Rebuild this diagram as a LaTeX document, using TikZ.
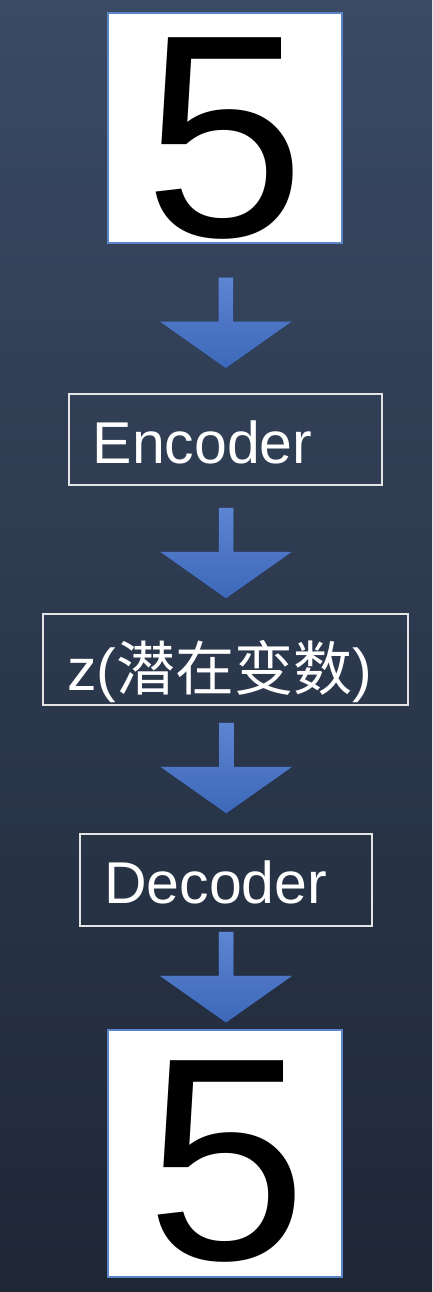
\documentclass[tikz,border=0pt]{standalone}
\usepackage{fontspec}
\setmainfont{Liberation Sans}
\newfontfamily\cjk{Noto Sans CJK SC}
\usetikzlibrary{calc}
\definecolor{bgtop}{HTML}{3A4A64}
\definecolor{bgbot}{HTML}{1E2736}
\definecolor{arrtop}{HTML}{5C86D2}
\definecolor{arrbot}{HTML}{3D67B8}
\definecolor{imgborder}{HTML}{5B84C9}
\definecolor{txtborder}{HTML}{E4E4E4}
\tikzset{
  imgbox/.style={draw=imgborder, line width=2.6pt, fill=white, inner sep=0pt},
  txtbox/.style={draw=txtborder, line width=1.4pt, inner sep=0pt},
  digit/.style={font=\fontsize{289}{300}\selectfont, text=black, inner sep=0pt, anchor=base},
  boxlabel/.style={font=\fontsize{59}{62}\selectfont, text=white, inner sep=0pt, anchor=base west},
  blockarrow/.pic={
    \fill[top color=arrtop, bottom color=arrbot]
      (-7.5,45.5) -- (7.5,45.5) -- (7.5,1.5) -- (66.5,1.5) -- (0,-45.5)
      -- (-66.5,1.5) -- (-7.5,1.5) -- cycle;
  }
}
\begin{document}
\begin{tikzpicture}[x=1pt,y=1pt]
\useasboundingbox (0,0) rectangle (432,-1292);
\shade[top color=bgtop, bottom color=bgbot] (0,0) rectangle (432,-1292);

% boxes
\node[imgbox, minimum width=234pt, minimum height=230pt] (in) at (225,-128) {};
\node[txtbox, minimum width=313pt, minimum height=91pt] (enc) at (225.5,-439.5) {};
\node[txtbox, minimum width=365pt, minimum height=91pt] (z) at (225.5,-659.5) {};
\node[txtbox, minimum width=292pt, minimum height=92pt] (dec) at (226,-880) {};
\node[imgbox, minimum width=234pt, minimum height=247pt] (out) at (225,-1153.5) {};

% labels
\node[digit] (d1) at (225,-236) {5};
\node[digit] (d2) at (226.5,-1259) {5};
\node[boxlabel] (encl) at (92.5,-463) {Encoder};
\node[boxlabel] (zl) at (67,-690) {z(\cjk 潜在变数\rmfamily)};
\node[boxlabel] (decl) at (104,-903) {Decoder};

% block arrows
\coordinate (a1) at ($(in.south)!0.5!(enc.north)+(0.5,-4)$);
\coordinate (a2) at ($(enc.south)!0.5!(z.north)+(0.5,-3.5)$);
\coordinate (a3) at ($(z.south)!0.5!(dec.north)+(0.5,1.5)$);
\coordinate (a4) at ($(dec.south)!0.5!(out.north)+(0.5,0.5)$);
\foreach \c in {a1,a2,a3,a4} \pic at (\c) {blockarrow};
\end{tikzpicture}
\end{document}
